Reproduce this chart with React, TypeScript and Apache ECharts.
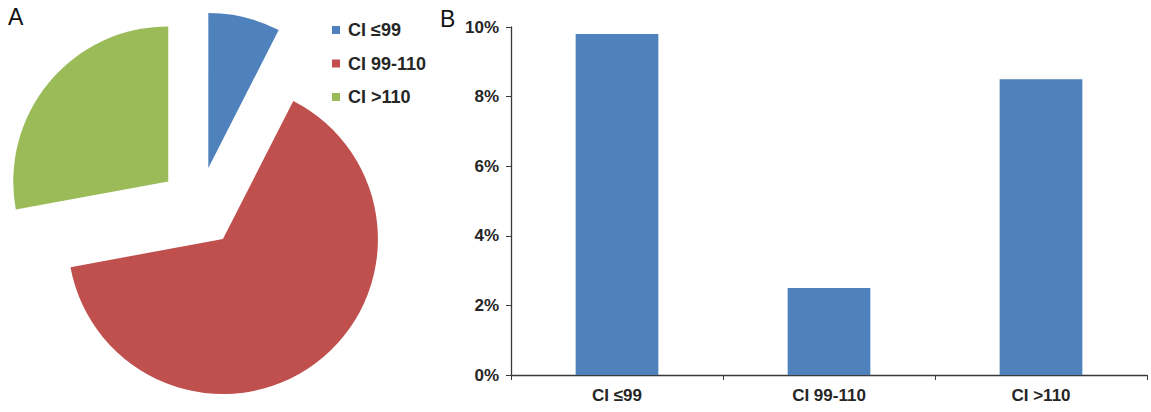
import React, { useEffect, useRef } from "react";
import * as echarts from "echarts";

// Share of patients per CI group (pie, panel A)
const groups = ["CI ≤99", "CI 99-110", "CI >110"];
const groupShares = [7.5, 64.6, 27.9];
const groupColors = ["#4F81BD", "#C0504D", "#9BBB59"];

// Event rate per CI group in percent (bars, panel B)
const barCategories = ["CI ≤99", "CI 99-110", "CI >110"];
const barValues = [9.8, 2.5, 8.5];
const yTicks = { min: 0, max: 10, interval: 2 };

const FONT = "'Liberation Sans', Arial, sans-serif";
const INK = "#262626";
const AXIS = "#3a3a3a";

export default function App() {
  const ref = useRef<HTMLDivElement>(null);

  useEffect(() => {
    document.body.style.margin = "0";
    if (!ref.current) return;
    const chart = echarts.init(ref.current, undefined, { renderer: "svg" });

    chart.setOption({
      animation: false,
      backgroundColor: "#ffffff",
      textStyle: { fontFamily: FONT },
      graphic: [
        {
          type: "text",
          left: 8,
          top: 5,
          style: { text: "A", font: `normal 23px ${FONT}`, fill: "#111" },
        },
        {
          type: "text",
          left: 440,
          top: 7,
          style: { text: "B", font: `normal 23px ${FONT}`, fill: "#111" },
        },
      ],
      legend: {
        orient: "vertical",
        left: 332,
        top: 21,
        padding: 0,
        itemWidth: 8,
        itemHeight: 8,
        itemGap: 15.5,
        icon: "rect",
        selectedMode: false,
        data: groups,
        textStyle: {
          fontFamily: FONT,
          fontSize: 18,
          fontWeight: "bold",
          color: INK,
          lineHeight: 18,
          padding: [0, 0, 0, 3],
        },
      },
      grid: { left: 511, right: 4, top: 27, bottom: 37 },
      xAxis: {
        type: "category",
        data: barCategories,
        axisLine: { lineStyle: { color: AXIS, width: 1.3 } },
        axisTick: { show: true, length: 5, lineStyle: { color: AXIS } },
        axisLabel: {
          fontFamily: FONT,
          fontSize: 17,
          fontWeight: "bold",
          color: INK,
          margin: 12,
        },
      },
      yAxis: {
        type: "value",
        min: yTicks.min,
        max: yTicks.max,
        interval: yTicks.interval,
        splitLine: { show: false },
        axisLine: { show: true, lineStyle: { color: AXIS, width: 1.3 } },
        axisTick: { show: true, length: 5, lineStyle: { color: AXIS } },
        axisLabel: {
          formatter: "{value}%",
          fontFamily: FONT,
          fontSize: 17,
          fontWeight: "bold",
          color: INK,
          margin: 12,
        },
      },
      series: [
        {
          type: "pie",
          center: [199, 207],
          radius: 155,
          startAngle: 90,
          clockwise: true,
          selectedMode: "multiple",
          selectedOffset: 40,
          label: { show: false },
          labelLine: { show: false },
          emphasis: { disabled: true },
          silent: true,
          data: groups.map((name, i) => ({
            name,
            value: groupShares[i],
            selected: true,
            itemStyle: { color: groupColors[i] },
          })),
        },
        {
          type: "bar",
          data: barValues,
          barWidth: "39%",
          itemStyle: { color: "#4F81BD" },
          silent: true,
        },
      ],
    });

    return () => chart.dispose();
  }, []);

  return <div ref={ref} style={{ width: 1151, height: 412 }} />;
}
